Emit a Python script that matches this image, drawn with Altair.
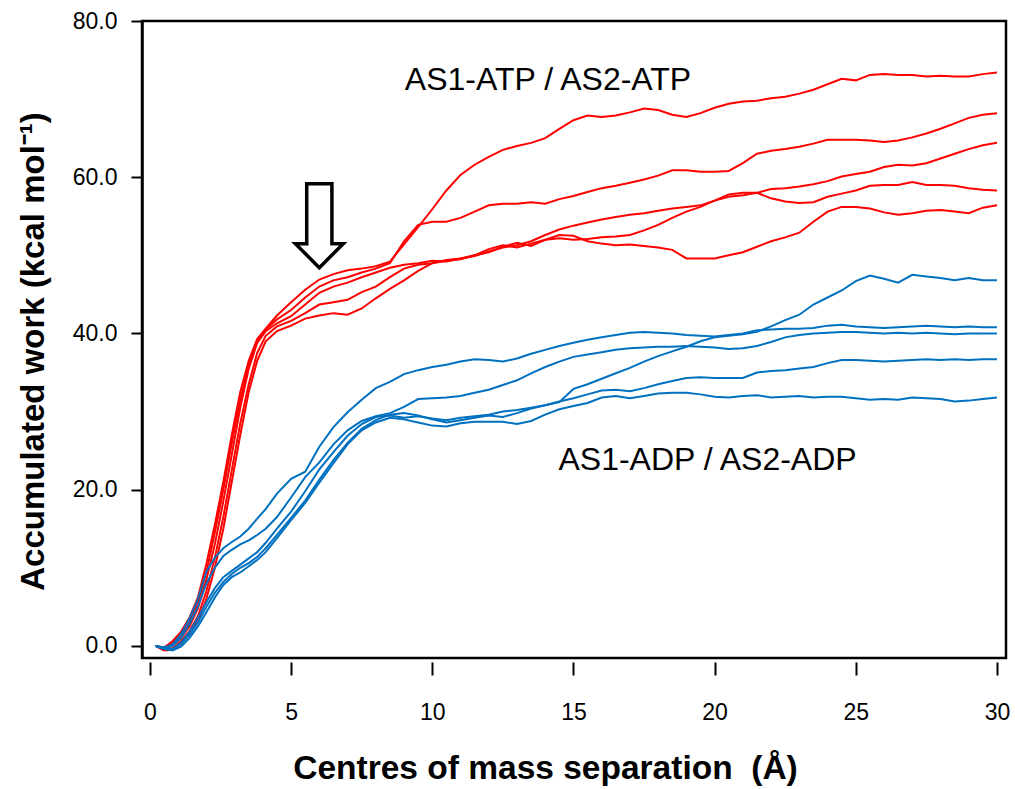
import altair as alt
import pandas as pd

FONT = "Liberation Sans"

# Common sampling grid along the separation coordinate (Å)
X = [0.2, 0.5, 0.8, 1.1, 1.4, 1.7, 2.0, 2.3, 2.6, 2.9, 3.2, 3.5, 3.8, 4.1,
     4.5, 5.0, 5.5, 6.0, 6.5, 7.0, 7.5, 8.0, 8.5, 9.0, 9.5, 10.0,
     10.5, 11.0, 11.5, 12.0, 12.5, 13.0, 13.5, 14.0, 14.5, 15.0,
     15.5, 16.0, 16.5, 17.0, 17.5, 18.0, 18.5, 19.0, 19.5, 20.0,
     20.5, 21.0, 21.5, 22.0, 22.5, 23.0, 23.5, 24.0, 24.5, 25.0,
     25.5, 26.0, 26.5, 27.0, 27.5, 28.0, 28.5, 29.0, 29.5, 30.0]

# Accumulated work (kcal/mol), ATP-bound pulls
ATP_1 = [0, -0.2, 0.6, 1.8, 3.6, 6.2, 10.5, 15.5, 21.0, 27.0, 32.5, 36.5, 39.3, 40.6,
         42.3, 44.0, 45.6, 46.9, 47.6, 48.1, 48.3, 48.6, 49.2, 51.4, 53.6, 55.9,
         58.3, 60.3, 61.6, 62.6, 63.5, 64.0, 64.4, 65.0, 66.2, 67.3,
         67.9, 67.7, 67.9, 68.3, 68.8, 68.6, 68.0, 67.7, 68.2, 68.9,
         69.4, 69.7, 69.8, 70.1, 70.3, 70.7, 71.2, 71.9, 72.6, 72.4,
         73.1, 73.2, 73.1, 73.1, 72.9, 73.0, 72.9, 72.9, 73.2, 73.4]
ATP_2 = [0, -0.4, 0.3, 1.4, 3.0, 5.5, 9.5, 14.5, 20.0, 26.0, 31.5, 36.0, 39.0, 40.5,
         41.8, 43.0, 44.6, 46.0, 46.8, 47.2, 47.8, 48.3, 49.0, 51.8, 53.9, 54.3,
         54.3, 54.8, 55.6, 56.4, 56.6, 56.6, 56.8, 56.6, 57.2, 57.6,
         58.1, 58.6, 58.9, 59.3, 59.7, 60.2, 60.9, 60.9, 60.7, 60.7,
         60.8, 61.8, 63.0, 63.4, 63.6, 63.9, 64.3, 64.8, 64.8, 64.8,
         64.7, 64.5, 64.7, 65.1, 65.6, 66.2, 66.9, 67.6, 68.0, 68.2]
ATP_3 = [0, -0.3, 0.1, 1.0, 2.5, 4.8, 8.5, 13.0, 18.5, 24.5, 30.5, 35.5, 38.8, 40.3,
         41.3, 42.2, 43.7, 45.2, 46.0, 46.5, 47.2, 47.8, 48.4, 48.8, 49.0, 49.3,
         49.2, 49.6, 49.9, 50.5, 51.0, 51.3, 51.8, 52.6, 53.3, 53.8,
         54.2, 54.6, 54.9, 55.2, 55.4, 55.7, 56.0, 56.2, 56.4, 57.0,
         57.5, 57.7, 58.0, 58.5, 58.6, 58.8, 59.1, 59.5, 60.1, 60.4,
         60.7, 61.3, 61.6, 61.5, 61.8, 62.4, 63.0, 63.6, 64.1, 64.4]
ATP_4 = [0, -0.5, -0.3, 0.6, 1.9, 3.8, 7.0, 11.3, 16.5, 22.5, 28.5, 33.5, 37.5, 39.7,
         40.9, 41.6, 42.6, 43.7, 44.0, 44.3, 45.3, 46.0, 47.2, 48.3, 48.8, 49.0,
         49.3, 49.5, 50.0, 50.8, 51.3, 51.0, 51.5, 52.0, 52.2, 52.0,
         52.1, 52.3, 52.4, 52.6, 53.2, 53.9, 54.8, 55.6, 56.2, 57.0,
         57.8, 58.0, 58.0, 57.3, 56.9, 56.7, 56.8, 57.5, 57.9, 58.3,
         58.9, 59.0, 59.0, 59.4, 59.0, 59.0, 58.9, 58.6, 58.4, 58.3]
ATP_5 = [0, -0.6, -0.5, 0.3, 1.5, 3.2, 6.0, 10.0, 15.0, 21.0, 27.0, 32.5, 36.5, 39.0,
         40.3, 41.0, 41.9, 42.3, 42.6, 42.4, 43.2, 44.5, 45.7, 46.8, 48.0, 49.0,
         49.4, 49.6, 50.0, 50.4, 51.1, 51.6, 51.2, 52.0, 52.6, 52.5,
         51.8, 51.5, 51.3, 51.4, 51.2, 51.0, 50.7, 49.6, 49.6, 49.6,
         50.0, 50.4, 51.1, 51.8, 52.3, 52.9, 54.3, 55.6, 56.2, 56.2,
         56.0, 55.5, 55.2, 55.4, 55.7, 55.8, 55.6, 55.4, 56.1, 56.4]

# Accumulated work (kcal/mol), ADP-bound pulls
ADP_1 = [0, -0.3, -0.4, 0.4, 1.8, 3.6, 5.6, 7.4, 8.8, 9.6, 10.4, 11.2, 12.0, 13.2,
         15.0, 17.2, 19.8, 22.6, 24.8, 26.9, 28.4, 29.3, 29.5, 29.2, 29.4, 29.1,
         28.9, 29.2, 29.4, 29.6, 30.0, 30.2, 30.5, 30.8, 31.2, 32.9,
         33.5, 34.2, 34.9, 35.6, 36.4, 37.1, 37.7, 38.3, 39.0, 39.5,
         39.7, 39.9, 40.2, 40.9, 41.7, 42.4, 43.7, 44.6, 45.5, 46.7,
         47.4, 47.0, 46.5, 47.5, 47.3, 47.1, 46.8, 47.1, 46.8, 46.8]
ADP_2 = [0, -0.2, 0.2, 1.5, 3.5, 6.0, 9.5, 11.3, 12.5, 13.3, 14.0, 15.0, 16.3, 17.5,
         19.5, 21.4, 22.3, 25.5, 28.0, 29.9, 31.5, 33.0, 33.8, 34.8, 35.3, 35.7,
         36.0, 36.4, 36.7, 36.6, 36.4, 36.8, 37.4, 37.9, 38.4, 38.8,
         39.2, 39.5, 39.8, 40.1, 40.2, 40.1, 40.0, 39.8, 39.7, 39.6,
         39.8, 40.0, 40.4, 40.5, 40.6, 40.6, 40.7, 41.0, 41.1, 40.9,
         40.8, 40.7, 40.8, 40.9, 41.0, 40.9, 40.8, 40.9, 40.8, 40.8]
ADP_3 = [0, -0.4, 0.0, 1.0, 2.8, 5.0, 8.0, 10.0, 11.5, 12.3, 13.0, 13.5, 14.2, 15.0,
         16.5, 19.0, 21.6, 23.5, 25.8, 27.6, 28.8, 29.4, 29.8, 30.6, 31.6, 31.7,
         31.8, 32.0, 32.4, 32.8, 33.4, 34.0, 34.9, 35.7, 36.4, 37.0,
         37.3, 37.6, 37.9, 38.1, 38.2, 38.3, 38.3, 38.4, 38.3, 38.2,
         38.0, 38.1, 38.4, 38.9, 39.5, 39.8, 40.0, 40.1, 40.2, 40.2,
         40.1, 40.0, 40.1, 40.0, 40.1, 40.0, 39.9, 40.0, 40.0, 40.0]
ADP_4 = [0, -0.2, -0.5, 0.2, 1.4, 3.0, 5.0, 6.8, 8.2, 9.2, 10.0, 10.6, 11.4, 12.5,
         14.2, 16.4, 18.6, 21.3, 23.8, 26.0, 27.8, 28.9, 29.6, 29.8, 29.5, 29.0,
         28.6, 28.9, 29.2, 29.5, 29.3, 29.8, 30.4, 30.8, 31.3, 31.7,
         32.2, 32.7, 32.8, 32.6, 33.0, 33.5, 33.9, 34.3, 34.4, 34.3,
         34.3, 34.3, 35.0, 35.2, 35.3, 35.5, 35.7, 36.2, 36.6, 36.6,
         36.5, 36.4, 36.5, 36.6, 36.7, 36.6, 36.7, 36.6, 36.7, 36.7]
ADP_5 = [0, -0.4, -0.6, -0.1, 1.0, 2.5, 4.3, 6.2, 7.8, 8.8, 9.4, 10.2, 11.0, 12.0,
         13.8, 16.1, 18.3, 20.9, 23.4, 25.8, 27.6, 28.6, 29.2, 29.0, 28.6, 28.2,
         28.1, 28.5, 28.7, 28.7, 28.7, 28.4, 28.8, 29.6, 30.3, 30.7,
         31.1, 31.8, 32.0, 31.7, 32.0, 32.3, 32.4, 32.4, 32.2, 31.9,
         31.8, 32.0, 32.1, 31.8, 31.9, 32.0, 31.8, 31.9, 31.9, 31.7,
         31.5, 31.6, 31.5, 31.8, 31.7, 31.6, 31.3, 31.4, 31.6, 31.8]

SERIES = {
    "ATP run 1": ("ATP", ATP_1), "ATP run 2": ("ATP", ATP_2),
    "ATP run 3": ("ATP", ATP_3), "ATP run 4": ("ATP", ATP_4),
    "ATP run 5": ("ATP", ATP_5),
    "ADP run 1": ("ADP", ADP_1), "ADP run 2": ("ADP", ADP_2),
    "ADP run 3": ("ADP", ADP_3), "ADP run 4": ("ADP", ADP_4),
    "ADP run 5": ("ADP", ADP_5),
}

LABELS = ["AS1-ATP / AS2-ATP", "AS1-ADP / AS2-ADP"]
LABEL_X = [14.1, 19.75]
LABEL_Y = [72.5, 23.8]

ARROW_X = [6.0]
ARROW_Y = [53.8]

rows = []
for run, (ligand, values) in SERIES.items():
    for x, y in zip(X, values):
        rows.append({"run": run, "ligand": ligand, "sep": x, "work": y})
curves = pd.DataFrame(rows)

x_scale = alt.Scale(domain=[-0.28, 30.32], nice=False, zero=False)
y_scale = alt.Scale(domain=[-1.55, 80], nice=False, zero=False)

x_axis = alt.Axis(
    values=[0, 5, 10, 15, 20, 25, 30], format="d", offset=4, domain=False,
    grid=False, tickSize=13, tickWidth=2, tickColor="black",
    labelFont=FONT, labelFontSize=23, labelColor="black", labelPadding=26,
    title="Centres of mass separation\u00a0\u00a0(Å)", titleFont=FONT,
    titleFontSize=33.5, titleFontWeight="bold", titleColor="black",
    titlePadding=28, titleX=403,
)
y_axis = alt.Axis(
    values=[0, 20, 40, 60, 80], format=".1f", grid=False,
    domainColor="black", domainWidth=2.5, tickSize=11, tickWidth=2,
    tickColor="black", labelFont=FONT, labelFontSize=23, labelColor="black",
    labelPadding=14,
    title="Accumulated work (kcal mol⁻¹)", titleFont=FONT, titleFontSize=33,
    titleFontWeight="bold", titleColor="black", titlePadding=22, titleY=330,
)

lines = alt.Chart(curves).mark_line(strokeWidth=2).encode(
    x=alt.X("sep:Q", scale=x_scale, axis=x_axis),
    y=alt.Y("work:Q", scale=y_scale, axis=y_axis),
    color=alt.Color("ligand:N", scale=alt.Scale(domain=["ATP", "ADP"],
                                                range=["#ff0000", "#0070c0"]),
                    legend=None),
    detail="run:N",
    order="sep:Q",
)
atp_lines = lines.transform_filter(alt.datum.ligand == "ATP")
adp_lines = lines.transform_filter(alt.datum.ligand == "ADP")

labels = alt.Chart(pd.DataFrame({"x": LABEL_X, "y": LABEL_Y, "text": LABELS})).mark_text(
    font=FONT, fontSize=32, color="black", align="center", baseline="middle"
).encode(x=alt.X("x:Q", scale=x_scale), y=alt.Y("y:Q", scale=y_scale), text="text:N")

# Hollow downward arrow marking the plateau onset
ARROW_PATH = ("M -0.3 -1 L 0.3 -1 L 0.3 0.43 L 0.57 0.43 L 0 1 "
              "L -0.57 0.43 L -0.3 0.43 Z")
arrow = alt.Chart(pd.DataFrame({"x": ARROW_X, "y": ARROW_Y})).mark_point(
    shape=ARROW_PATH, size=7056, filled=True, fill="white", stroke="black",
    strokeWidth=3.5, opacity=1
).encode(x=alt.X("x:Q", scale=x_scale), y=alt.Y("y:Q", scale=y_scale))

chart = alt.layer(atp_lines, adp_lines, labels, arrow).properties(
    width=864, height=637,
    padding={"left": 142, "top": 21, "right": 9, "bottom": 131},
    autosize=alt.AutoSizeParams(type="none"),
    background="white",
).configure_view(stroke="black", strokeWidth=2.5)

chart.save("out.html", embed_options={"renderer": "svg", "actions": False})
